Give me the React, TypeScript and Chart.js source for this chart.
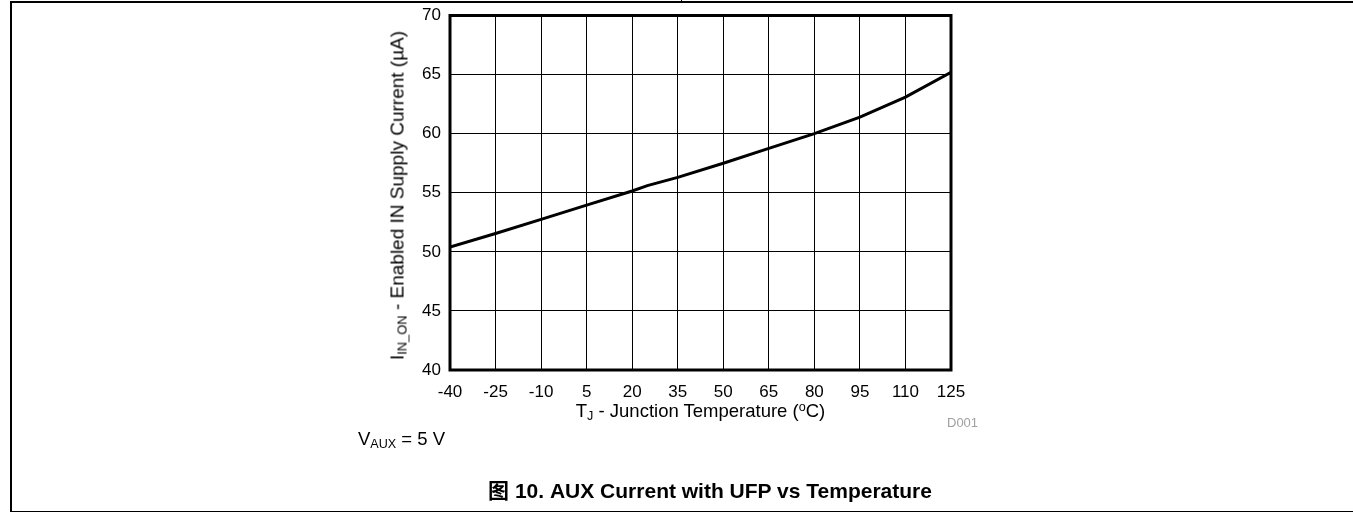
import React, { useEffect, useRef } from "react";
import { Chart, registerables } from "chart.js";

Chart.register(...registerables);

const temperatures = [-40, -25, -10, 5, 20, 25, 35, 50, 65, 80, 95, 110, 125];
const supplyCurrent = [50.4, 51.55, 52.75, 53.95, 55.15, 55.6, 56.3, 57.5, 58.75, 60.0, 61.4, 63.1, 65.2];
const xTickValues = [-40, -25, -10, 5, 20, 35, 50, 65, 80, 95, 110, 125];
const yTickValues = [40, 45, 50, 55, 60, 65, 70];

const FONT = "'Liberation Sans', Arial, Helvetica, sans-serif";

const frameBorder = {
  id: "frameBorder",
  afterDatasetsDraw(chart: any) {
    const { ctx, chartArea } = chart;
    ctx.save();
    ctx.strokeStyle = "#000";
    ctx.lineWidth = 3;
    ctx.strokeRect(chartArea.left, chartArea.top, chartArea.right - chartArea.left, chartArea.bottom - chartArea.top);
    ctx.restore();
  },
};

export default function App() {
  const canvasRef = useRef<HTMLCanvasElement | null>(null);

  useEffect(() => {
    if (!canvasRef.current) return;
    const chart = new Chart(canvasRef.current, {
      type: "line",
      data: {
        datasets: [
          {
            data: temperatures.map((t, i) => ({ x: t, y: supplyCurrent[i] })),
            borderColor: "#000",
            borderWidth: 3,
            pointRadius: 0,
            tension: 0,
            fill: false,
          },
        ],
      },
      options: {
        animation: false,
        responsive: false,
        devicePixelRatio: 1,
        layout: { padding: { left: 0, top: 15.5, right: 402, bottom: 0 } },
        plugins: { legend: { display: false }, tooltip: { enabled: false }, title: { display: false } },
        scales: {
          x: {
            type: "linear",
            min: -40,
            max: 125,
            afterBuildTicks: (scale: any) => {
              scale.ticks = xTickValues.map((v) => ({ value: v }));
            },
            afterFit: (scale: any) => {
              scale.height = 144;
              scale.paddingLeft = 0;
              scale.paddingRight = 0;
            },
            grid: { color: "#000", lineWidth: 1, drawTicks: false },
            border: { display: false },
            ticks: {
              color: "#000",
              padding: 12,
              maxRotation: 0,
              autoSkip: false,
              font: { family: FONT, size: 17 },
              callback: (v: any) => String(v),
            },
          },
          y: {
            type: "linear",
            min: 40,
            max: 70,
            afterBuildTicks: (scale: any) => {
              scale.ticks = yTickValues.map((v) => ({ value: v }));
            },
            afterFit: (scale: any) => {
              scale.width = 450;
              scale.paddingTop = 0;
              scale.paddingBottom = 0;
            },
            grid: { color: "#000", lineWidth: 1, drawTicks: false },
            border: { display: false },
            ticks: {
              color: "#000",
              padding: 9,
              autoSkip: false,
              font: { family: FONT, size: 17 },
              callback: (v: any) => String(v),
            },
          },
        },
      },
      plugins: [frameBorder],
    });
    return () => chart.destroy();
  }, []);

  const abs = (s: React.CSSProperties): React.CSSProperties => ({ position: "absolute", ...s });
  const yTitleF = 19;

  return (
    <div style={abs({ left: 0, top: 0, width: 1353, height: 514, overflow: "hidden", fontFamily: FONT, color: "#000", background: "#fff" })}>
      <canvas ref={canvasRef} width={1353} height={514} style={abs({ left: 0, top: 0, width: 1353, height: 514 })} />
      {/* page frame */}
      <div style={abs({ left: 10, top: 1, right: 0, height: 1.6, background: "#000" })} />
      <div style={abs({ left: 10, top: 1, width: 1.6, height: 511, background: "#000" })} />
      <div style={abs({ left: 10, top: 510.5, right: 0, height: 1.6, background: "#000" })} />
      <div style={abs({ left: 681, top: 0, width: 1.2, height: 2, background: "#000" })} />
      {/* y axis title */}
      <div
        style={abs({
          left: 396.6 - 250,
          top: 195 - yTitleF / 2,
          width: 500,
          height: yTitleF,
          lineHeight: `${yTitleF}px`,
          fontSize: yTitleF,
          textAlign: "center",
          whiteSpace: "nowrap",
          transform: "rotate(-90deg)",
        })}
      >
        I<sub style={{ fontSize: "0.68em", verticalAlign: "-0.25em", lineHeight: 0 }}>IN_ON</sub> - Enabled IN Supply Current (µA)
      </div>
      {/* x axis title */}
      <div style={abs({ left: 450, width: 501, top: 402.3, fontSize: 18.5, lineHeight: 1, textAlign: "center", whiteSpace: "nowrap" })}>
        T<sub style={{ fontSize: "0.68em", verticalAlign: "-0.25em", lineHeight: 0 }}>J</sub> - Junction Temperature (
        <sup style={{ fontSize: "0.68em", verticalAlign: "0.45em", lineHeight: 0 }}>o</sup>C)
      </div>
      {/* D001 */}
      <div style={abs({ left: 947, top: 416, fontSize: 13, lineHeight: 1, color: "#a0a0a0", whiteSpace: "nowrap" })}>D001</div>
      {/* V_AUX */}
      <div style={abs({ left: 358, top: 429.5, fontSize: 18.5, lineHeight: 1, whiteSpace: "nowrap" })}>
        V<sub style={{ fontSize: "0.68em", verticalAlign: "-0.25em", lineHeight: 0 }}>AUX</sub> = 5 V
      </div>
      {/* caption */}
      <div
        style={abs({
          left: 410,
          width: 600,
          top: 480.2,
          fontSize: 21,
          lineHeight: 1,
          fontWeight: "bold",
          textAlign: "center",
          whiteSpace: "nowrap",
          fontFamily: `${FONT}, 'Noto Sans CJK SC'`,
        })}
      >
        图 10. AUX Current with UFP vs Temperature
      </div>
    </div>
  );
}
